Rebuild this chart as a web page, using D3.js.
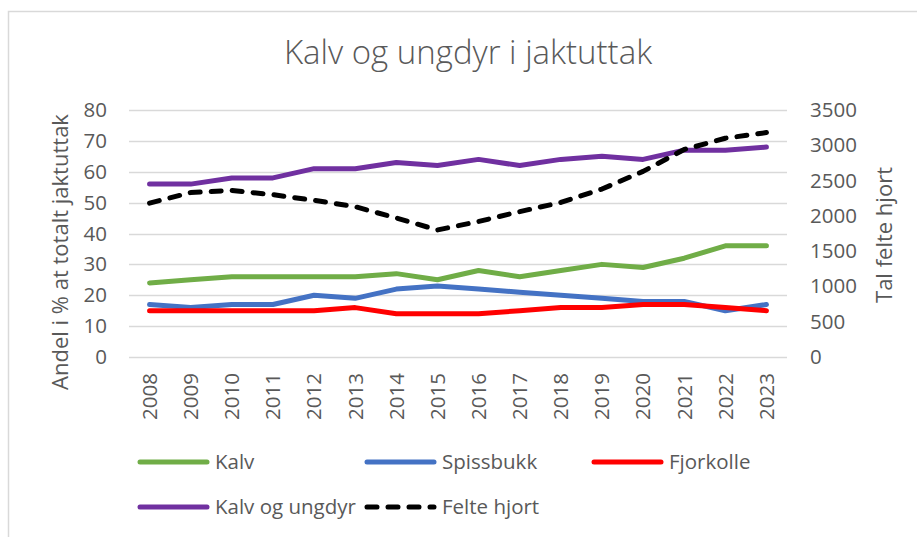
<!DOCTYPE html>
<html>
<head>
<meta charset="utf-8">
<script src="https://cdn.jsdelivr.net/npm/d3@7"></script>
<style>
  html, body { margin: 0; padding: 0; background: #fff; }
  svg { display: block; font-family: "Open Sans", sans-serif; }
</style>
</head>
<body>
<div id="chart"></div>
<script>
// Data
const years = ["2008", "2009", "2010", "2011", "2012", "2013", "2014", "2015",
               "2016", "2017", "2018", "2019", "2020", "2021", "2022", "2023"];
const kalv = [24, 25, 26, 26, 26, 26, 27, 25, 28, 26, 28, 30, 29, 32, 36, 36];
const spissbukk = [17, 16, 17, 17, 20, 19, 22, 23, 22, 21, 20, 19, 18, 18, 15, 17];
const fjorkolle = [15, 15, 15, 15, 15, 16, 14, 14, 14, 15, 16, 16, 17, 17, 16, 15];
const kalvUngdyr = [56, 56, 58, 58, 61, 61, 63, 62, 64, 62, 64, 65, 64, 67, 67, 68];
const felteHjort = [2180, 2330, 2360, 2300, 2220, 2130, 1970, 1800,
                    1920, 2060, 2190, 2380, 2630, 2940, 3100, 3180];
const leftTicks = [0, 10, 20, 30, 40, 50, 60, 70, 80];
const rightTicks = [0, 500, 1000, 1500, 2000, 2500, 3000, 3500];

const W = 917, H = 537;
const plot = { left: 129, right: 787, top: 110, bottom: 357 };
const textColor = "#595959";

const svg = d3.select("#chart").append("svg")
    .attr("width", W)
    .attr("height", H);

// chart frame (only left and top edges fall inside the picture)
svg.append("rect")
    .attr("x", 8.5).attr("y", 11.5)
    .attr("width", 1000).attr("height", 1000)
    .attr("fill", "none")
    .attr("stroke", "#d9d9d9")
    .attr("stroke-width", 1.5);

const x = d3.scaleBand().domain(years).range([plot.left, plot.right]);
const yL = d3.scaleLinear().domain([0, 80]).range([plot.bottom, plot.top]);
const yR = d3.scaleLinear().domain([0, 3500]).range([plot.bottom, plot.top]);
const cx = d => x(d) + x.bandwidth() / 2;

// title
svg.append("text")
    .attr("x", 468).attr("y", 64)
    .attr("text-anchor", "middle")
    .style("font-size", "33px")
    .style("font-weight", 300)
    .style("fill", textColor)
    .text("Kalv og ungdyr i jaktuttak");

// gridlines
svg.append("g")
    .selectAll("line")
    .data(leftTicks)
    .join("line")
    .attr("x1", plot.left).attr("x2", plot.right)
    .attr("y1", d => Math.round(yL(d)) + 0.5)
    .attr("y2", d => Math.round(yL(d)) + 0.5)
    .attr("stroke", "#d9d9d9")
    .attr("stroke-width", 1.3);

// left axis
const axL = svg.append("g")
    .attr("transform", `translate(${plot.left},0)`)
    .call(d3.axisLeft(yL).tickValues(leftTicks).tickSize(0).tickPadding(22));
axL.select(".domain").remove();
axL.selectAll("text")
    .style("font-family", "'Open Sans', sans-serif")
    .style("font-size", "20.5px")
    .style("fill", textColor);

// right axis
const axR = svg.append("g")
    .attr("transform", `translate(${plot.right},0)`)
    .call(d3.axisRight(yR).tickValues(rightTicks).tickFormat(d3.format("d"))
        .tickSize(0).tickPadding(23));
axR.select(".domain").remove();
axR.selectAll("text")
    .style("font-family", "'Open Sans', sans-serif")
    .style("font-size", "20.5px")
    .style("fill", textColor);

// x-axis labels, rotated
svg.append("g")
    .selectAll("text")
    .data(years)
    .join("text")
    .attr("transform", d => `translate(${cx(d)},373) rotate(-90)`)
    .attr("text-anchor", "end")
    .attr("dy", "0.36em")
    .style("font-size", "20.5px")
    .style("fill", textColor)
    .text(d => d);

// axis titles
svg.append("text")
    .attr("transform", "translate(68,252) rotate(-90)")
    .attr("text-anchor", "middle")
    .style("font-size", "22px")
    .style("fill", textColor)
    .text("Andel i % at totalt jaktuttak");

svg.append("text")
    .attr("transform", "translate(892,235) rotate(-90)")
    .attr("text-anchor", "middle")
    .style("font-size", "22px")
    .style("fill", textColor)
    .text("Tal felte hjort");

// series
const series = [
    { name: "Kalv", values: kalv, color: "#70AD47", scale: yL, dash: null },
    { name: "Spissbukk", values: spissbukk, color: "#4472C4", scale: yL, dash: null },
    { name: "Fjorkolle", values: fjorkolle, color: "#FF0000", scale: yL, dash: null },
    { name: "Kalv og ungdyr", values: kalvUngdyr, color: "#7030A0", scale: yL, dash: null },
    { name: "Felte hjort", values: felteHjort, color: "#000000", scale: yR, dash: "10,11" }
];

series.forEach(s => {
    const line = d3.line()
        .x((d, i) => cx(years[i]))
        .y(d => s.scale(d));
    svg.append("path")
        .datum(s.values)
        .attr("d", line)
        .attr("fill", "none")
        .attr("stroke", s.color)
        .attr("stroke-width", 5)
        .attr("stroke-linejoin", "round")
        .attr("stroke-linecap", "round")
        .attr("stroke-dasharray", s.dash);
});

// legend
const legendPos = [
    { x: 140, y: 462 }, { x: 367, y: 462 }, { x: 594, y: 462 },
    { x: 140, y: 507 }, { x: 367, y: 507 }
];
const legend = svg.append("g")
    .selectAll("g")
    .data(series)
    .join("g")
    .attr("transform", (d, i) => `translate(${legendPos[i].x},${legendPos[i].y})`);

legend.append("line")
    .attr("x1", 0).attr("x2", 67)
    .attr("y1", 0).attr("y2", 0)
    .attr("stroke", d => d.color)
    .attr("stroke-width", 5)
    .attr("stroke-linecap", "round")
    .attr("stroke-dasharray", d => d.dash);

legend.append("text")
    .attr("x", 75)
    .attr("dy", "0.35em")
    .style("font-size", "20.5px")
    .style("fill", textColor)
    .text(d => d.name);
</script>
</body>
</html>
